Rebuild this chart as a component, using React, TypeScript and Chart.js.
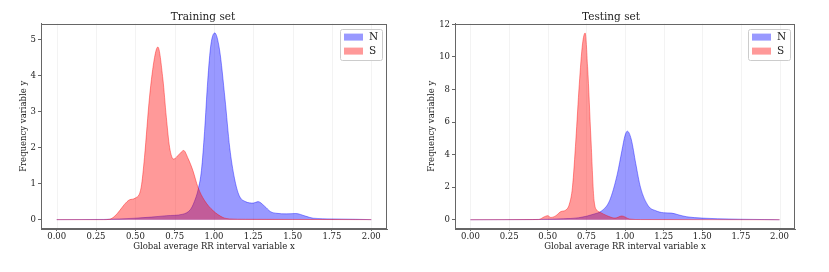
import React, { useEffect, useRef } from "react";
import { Chart, registerables } from "chart.js";

Chart.register(...registerables);

// ---------- data ----------
const seriesLabels = ["N", "S"];
const panelTitles = ["Training set", "Testing set"];
const xAxisTitle = "Global average RR interval variable x";
const yAxisTitle = "Frequency variable y";

const xTicks = [0, 0.25, 0.5, 0.75, 1.0, 1.25, 1.5, 1.75, 2.0];
const trainYTicks = [0, 1, 2, 3, 4, 5];
const testYTicks = [0, 2, 4, 6, 8, 10, 12];

// Training set, class N
const trainNX = [0, 0.3, 0.4, 0.5, 0.6, 0.7, 0.8, 0.85, 0.875, 0.9, 0.92, 0.94, 0.96, 0.98, 1.005, 1.035, 1.07, 1.1, 1.13, 1.16, 1.2, 1.25, 1.28, 1.32, 1.36, 1.4, 1.46, 1.52, 1.58, 1.63, 1.75, 1.9, 2.0];
const trainNY = [0, 0.005, 0.02, 0.04, 0.07, 0.11, 0.15, 0.28, 0.5, 0.85, 1.36, 2.45, 3.85, 4.85, 5.18, 4.72, 3.35, 2.0, 1.15, 0.67, 0.5, 0.46, 0.5, 0.38, 0.22, 0.175, 0.16, 0.17, 0.1, 0.04, 0.02, 0.01, 0];
// Training set, class S
const trainSX = [0, 0.3, 0.336, 0.37, 0.4, 0.43, 0.463, 0.5, 0.537, 0.558, 0.59, 0.622, 0.643, 0.675, 0.697, 0.718, 0.743, 0.78, 0.807, 0.835, 0.866, 0.898, 0.94, 0.994, 1.057, 1.1, 1.2, 1.5, 2.0];
const trainSY = [0, 0, 0.01, 0.1, 0.25, 0.42, 0.55, 0.6, 0.9, 1.73, 3.4, 4.5, 4.79, 3.9, 2.84, 2.0, 1.68, 1.82, 1.92, 1.7, 1.36, 0.9, 0.53, 0.25, 0.06, 0.02, 0.01, 0.005, 0];
// Testing set, class N
const testNX = [0, 0.4, 0.5, 0.6, 0.7, 0.8, 0.85, 0.9, 0.95, 0.98, 1.0, 1.015, 1.04, 1.07, 1.1, 1.15, 1.2, 1.25, 1.3, 1.35, 1.4, 1.5, 1.6, 1.75, 1.9, 2.0];
const testNY = [0, 0.01, 0.03, 0.06, 0.12, 0.35, 0.55, 1.17, 2.8, 4.25, 5.17, 5.44, 4.96, 3.43, 2.0, 0.86, 0.55, 0.43, 0.41, 0.29, 0.18, 0.1, 0.06, 0.03, 0.01, 0];
// Testing set, class S
const testSX = [0, 0.44, 0.478, 0.5, 0.52, 0.553, 0.585, 0.618, 0.64, 0.66, 0.682, 0.704, 0.725, 0.742, 0.758, 0.78, 0.8, 0.822, 0.84, 0.883, 0.936, 0.98, 1.03, 1.1, 1.5, 2.0];
const testSY = [0, 0.01, 0.18, 0.25, 0.14, 0.25, 0.5, 0.6, 0.96, 2.0, 4.9, 8.3, 10.8, 11.47, 9.4, 4.9, 1.17, 0.55, 0.45, 0.25, 0.1, 0.23, 0.04, 0.01, 0.005, 0];

// ---------- styling ----------
const FONT = "'DejaVu Serif', serif";
const TEXT = "#222222";
const FRAME = "#666666";
const BLUE = "rgba(0,0,255,0.4)";
const RED = "rgba(255,0,0,0.4)";

const zip = (xs: number[], ys: number[]) => xs.map((x, i) => ({ x, y: ys[i] }));

type PanelProps = {
  width: number;
  title: string;
  nX: number[]; nY: number[]; sX: number[]; sY: number[];
  yTicks: number[]; yMin: number; yMax: number;
  padLeft: number; yWidth: number; padRight: number;
};

function Panel(p: PanelProps) {
  const ref = useRef<HTMLCanvasElement | null>(null);
  useEffect(() => {
    if (!ref.current) return;
    const framePlugin = {
      id: "frame",
      beforeDatasetsDraw(chart: any) {
        const { ctx, chartArea } = chart;
        const xs = chart.scales.x;
        ctx.save();
        ctx.strokeStyle = "#f3f3f3";
        ctx.lineWidth = 1;
        xTicks.forEach((v) => {
          const px = Math.round(xs.getPixelForValue(v)) + 0.5;
          ctx.beginPath();
          ctx.moveTo(px, chartArea.top);
          ctx.lineTo(px, chartArea.bottom);
          ctx.stroke();
        });
        ctx.restore();
      },
      afterDatasetsDraw(chart: any) {
        const { ctx, chartArea } = chart;
        ctx.save();
        ctx.strokeStyle = FRAME;
        ctx.lineWidth = 1;
        ctx.strokeRect(Math.round(chartArea.left) + 0.5, Math.round(chartArea.top) + 0.5,
          Math.round(chartArea.right - chartArea.left) - 1, Math.round(chartArea.bottom - chartArea.top) - 1);
        ctx.restore();
      },
    };
    const legendPlugin = {
      id: "mplLegend",
      afterDraw(chart: any) {
        const { ctx, chartArea } = chart;
        const w = 42, h = 31;
        const bx = chartArea.right - 5 - w;
        const by = chartArea.top + 5;
        ctx.save();
        ctx.fillStyle = "rgba(255,255,255,0.8)";
        ctx.strokeStyle = "#cccccc";
        ctx.lineWidth = 1;
        ctx.beginPath();
        (ctx as any).roundRect(Math.round(bx) + 0.5, Math.round(by) + 0.5, w, h, 2);
        ctx.fill();
        ctx.stroke();
        chart.data.datasets.forEach((ds: any, i: number) => {
          const cy = by + 8.5 + i * 14;
          ctx.fillStyle = ds.backgroundColor;
          ctx.fillRect(bx + 4, cy - 3.5, 19, 7);
          ctx.fillStyle = TEXT;
          ctx.font = `10.5px ${FONT}`;
          ctx.textBaseline = "middle";
          ctx.textAlign = "left";
          ctx.fillText(ds.label, bx + 29, cy + 0.5);
        });
        ctx.restore();
      },
    };
    const chart = new Chart(ref.current, {
      type: "line",
      data: {
        datasets: [
          { label: seriesLabels[0], data: zip(p.nX, p.nY), backgroundColor: BLUE, borderColor: BLUE, borderWidth: 1, fill: "origin", pointRadius: 0, cubicInterpolationMode: "monotone", order: 2 },
          { label: seriesLabels[1], data: zip(p.sX, p.sY), backgroundColor: RED, borderColor: RED, borderWidth: 1, fill: "origin", pointRadius: 0, cubicInterpolationMode: "monotone", order: 1 },
        ],
      } as any,
      options: {
        animation: false,
        responsive: false,
        devicePixelRatio: 1,
        layout: { padding: { left: p.padLeft, right: p.padRight, top: 0, bottom: 20 } },
        plugins: {
          legend: { display: false },
          tooltip: { enabled: false },
          title: {
            display: true, text: p.title, color: TEXT,
            font: { family: FONT, size: 10.5, weight: "normal" },
            padding: { top: 11, bottom: 0 },
          },
        },
        scales: {
          x: {
            type: "linear", min: -0.1, max: 2.1,
            afterBuildTicks: (s: any) => { s.ticks = xTicks.map((v) => ({ value: v })); },
            afterFit: (s: any) => { s.height = 23; },
            ticks: { color: TEXT, font: { family: FONT, size: 8.5 }, padding: 1, maxRotation: 0, autoSkip: false, callback: (v: any) => Number(v).toFixed(2) },
            grid: { drawOnChartArea: false, tickLength: 2, color: FRAME },
            border: { display: true, color: FRAME },
            title: { display: true, text: xAxisTitle, color: TEXT, font: { family: FONT, size: 8.5 }, padding: 0 },
          },
          y: {
            type: "linear", min: p.yMin, max: p.yMax,
            afterBuildTicks: (s: any) => { s.ticks = p.yTicks.map((v) => ({ value: v })); },
            afterFit: (s: any) => { s.width = p.yWidth; },
            ticks: { color: TEXT, font: { family: FONT, size: 8.5 }, padding: 2, callback: (v: any) => String(v) },
            grid: { drawOnChartArea: false, tickLength: 3, color: FRAME },
            border: { display: true, color: FRAME },
            title: { display: true, text: yAxisTitle, color: TEXT, font: { family: FONT, size: 8.5 }, padding: 0 },
          },
        },
      } as any,
      plugins: [framePlugin, legendPlugin],
    });
    return () => chart.destroy();
  }, []);
  return <canvas ref={ref} width={p.width} height={272} style={{ display: "block", width: p.width, height: 272 }} />;
}

export default function App() {
  return (
    <div style={{ position: "fixed", left: 0, top: 0, width: 829, height: 272, background: "#ffffff", display: "flex" }}>
      <Panel width={414} title={panelTitles[0]} nX={trainNX} nY={trainNY} sX={trainSX} sY={trainSY}
        yTicks={trainYTicks} yMin={-0.26} yMax={5.44} padLeft={19} yWidth={22} padRight={27} />
      <Panel width={415} title={panelTitles[1]} nX={testNX} nY={testNY} sX={testSX} sY={testSY}
        yTicks={testYTicks} yMin={-0.57} yMax={12.05} padLeft={13} yWidth={28} padRight={34} />
    </div>
  );
}
